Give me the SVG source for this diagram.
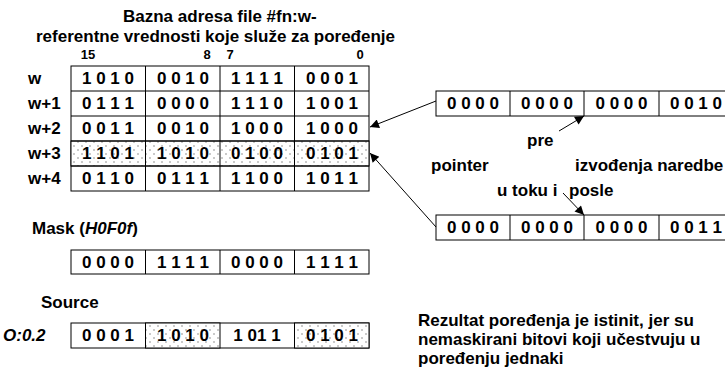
<svg xmlns="http://www.w3.org/2000/svg" width="725" height="369" viewBox="0 0 725 369">
<style>
text{font-family:"Liberation Sans",Arial,sans-serif;font-weight:bold;fill:#000}
.t{font-size:17px}
.d{font-size:17px;text-anchor:middle}
.n{font-size:13px;text-anchor:middle}
.box{fill:#fff;stroke:#000;stroke-width:1}
.dot{fill:url(#dots);stroke:#000;stroke-width:1}
.div{stroke:#000;stroke-width:1}
.con{stroke:#000;stroke-width:1;fill:none}
</style>
<defs>
<pattern id="dots" width="8" height="8" patternUnits="userSpaceOnUse">
<rect width="8" height="8" fill="#fff"/>
<circle cx="2" cy="2" r="0.8" fill="#888"/>
<circle cx="6" cy="6" r="0.8" fill="#888"/>
</pattern>
<marker id="ah" viewBox="0 0 10 10" refX="10" refY="5" markerWidth="11" markerHeight="9" markerUnits="userSpaceOnUse" orient="auto">
<path d="M0,0 L10,5 L0,10 z" fill="#000"/>
</marker>
</defs>
<rect width="725" height="369" fill="#fff"/>

<g id="title">
<text class="t" x="123" y="22">Bazna adresa file #fn:w-</text>
<text class="t" x="36" y="42">referentne vrednosti koje služe za poređenje</text>
</g>

<g id="bitnumbers">
<text class="n" x="88" y="59">15</text>
<text class="n" x="207" y="59">8</text>
<text class="n" x="230" y="59">7</text>
<text class="n" x="360" y="59">0</text>
</g>

<g id="table">
<rect class="box" x="71" y="66" width="298" height="125"/>
<rect class="dot" x="71" y="141" width="298" height="25"/>
<line class="div" x1="71" y1="91" x2="369" y2="91"/>
<line class="div" x1="71" y1="116" x2="369" y2="116"/>
<line class="div" x1="71" y1="141" x2="369" y2="141"/>
<line class="div" x1="71" y1="166" x2="369" y2="166"/>
<line class="div" x1="145.5" y1="66" x2="145.5" y2="191"/>
<line class="div" x1="220" y1="66" x2="220" y2="191"/>
<line class="div" x1="294.5" y1="66" x2="294.5" y2="191"/>
<g id="row-w">
<text class="t" x="28" y="84">w</text>
<text class="d" x="108" y="84">1 0 1 0</text><text class="d" x="183" y="84">0 0 1 0</text><text class="d" x="257" y="84">1 1 1 1</text><text class="d" x="332" y="84">0 0 0 1</text>
</g>
<g id="row-w1">
<text class="t" x="28" y="109">w+1</text>
<text class="d" x="108" y="109">0 1 1 1</text><text class="d" x="183" y="109">0 0 0 0</text><text class="d" x="257" y="109">1 1 1 0</text><text class="d" x="332" y="109">1 0 0 1</text>
</g>
<g id="row-w2">
<text class="t" x="28" y="134">w+2</text>
<text class="d" x="108" y="134">0 0 1 1</text><text class="d" x="183" y="134">0 0 1 0</text><text class="d" x="257" y="134">1 0 0 0</text><text class="d" x="332" y="134">1 0 0 0</text>
</g>
<g id="row-w3">
<text class="t" x="28" y="159">w+3</text>
<text class="d" x="108" y="159">1 1 0 1</text><text class="d" x="183" y="159">1 0 1 0</text><text class="d" x="257" y="159">0 1 0 0</text><text class="d" x="332" y="159">0 1 0 1</text>
</g>
<g id="row-w4">
<text class="t" x="28" y="184">w+4</text>
<text class="d" x="108" y="184">0 1 1 0</text><text class="d" x="183" y="184">0 1 1 1</text><text class="d" x="257" y="184">1 1 0 0</text><text class="d" x="332" y="184">1 0 1 1</text>
</g>
</g>

<g id="mask">
<text class="t" x="32" y="234">Mask (<tspan font-style="italic">H0F0f</tspan>)</text>
<rect class="box" x="71" y="250" width="298" height="24"/>
<line class="div" x1="145.5" y1="250" x2="145.5" y2="274"/>
<line class="div" x1="220" y1="250" x2="220" y2="274"/>
<line class="div" x1="294.5" y1="250" x2="294.5" y2="274"/>
<text class="d" x="108" y="268">0 0 0 0</text><text class="d" x="183" y="268">1 1 1 1</text><text class="d" x="257" y="268">0 0 0 0</text><text class="d" x="332" y="268">1 1 1 1</text>
</g>

<g id="source">
<text class="t" x="41" y="308">Source</text>
<text class="t" x="3" y="341" font-style="italic">O:0.2</text>
<rect class="box" x="71" y="323" width="298" height="25"/>
<rect class="dot" x="145.5" y="323" width="74.5" height="25"/>
<rect class="dot" x="294.5" y="323" width="74.5" height="25"/>
<text class="d" x="108" y="341">0 0 0 1</text><text class="d" x="183" y="341">1 0 1 0</text><text class="d" x="257" y="341">1 01 1</text><text class="d" x="332" y="341">0 1 0 1</text>
</g>

<g id="pointer-before">
<rect class="box" x="436" y="91" width="298" height="25"/>
<line class="div" x1="510" y1="91" x2="510" y2="116"/>
<line class="div" x1="584" y1="91" x2="584" y2="116"/>
<line class="div" x1="659" y1="91" x2="659" y2="116"/>
<text class="d" x="473" y="109">0 0 0 0</text><text class="d" x="547" y="109">0 0 0 0</text><text class="d" x="621.5" y="109">0 0 0 0</text><text class="d" x="696" y="109">0 0 1 0</text>
</g>

<g id="pointer-after">
<rect class="box" x="436" y="215" width="298" height="25"/>
<line class="div" x1="510" y1="215" x2="510" y2="240"/>
<line class="div" x1="584" y1="215" x2="584" y2="240"/>
<line class="div" x1="659" y1="215" x2="659" y2="240"/>
<text class="d" x="473" y="233">0 0 0 0</text><text class="d" x="547" y="233">0 0 0 0</text><text class="d" x="621.5" y="233">0 0 0 0</text><text class="d" x="696" y="233">0 0 1 1</text>
</g>

<g id="labels">
<text class="t" x="527" y="146">pre</text>
<text class="t" x="431" y="171">pointer</text>
<text class="t" x="575" y="171">izvođenja naredbe</text>
<text class="t" x="497" y="196">u toku i</text>
<text class="t" x="569" y="196">posle</text>
</g>

<g id="result">
<text class="t" x="418" y="326">Rezultat poređenja je istinit, jer su</text>
<text class="t" x="418" y="345">nemaskirani bitovi koji učestvuju u</text>
<text class="t" x="418" y="364">poređenju jednaki</text>
</g>

<g id="connectors">
<line class="con" x1="436" y1="101" x2="370" y2="127" marker-end="url(#ah)"/>
<line class="con" x1="436" y1="227" x2="370" y2="153" marker-end="url(#ah)"/>
<line class="con" x1="559" y1="131" x2="584" y2="116" marker-end="url(#ah)"/>
<line class="con" x1="563" y1="193" x2="584" y2="215" marker-end="url(#ah)"/>
</g>
</svg>
